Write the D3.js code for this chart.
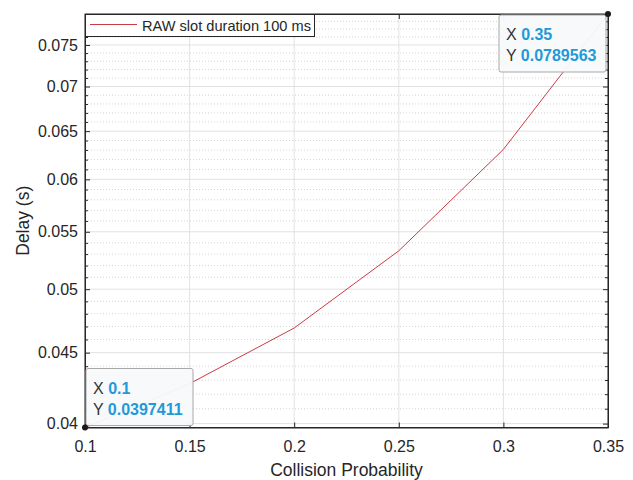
<!DOCTYPE html>
<html>
<head>
<meta charset="utf-8">
<script src="https://cdn.jsdelivr.net/npm/d3@7"></script>
<style>
  body { margin: 0; background: #fff; }
  text { font-family: "Liberation Sans", Arial, sans-serif; }
</style>
</head>
<body>
<script>
// Delay vs collision probability (log y axis, MATLAB style)
var collisionProb = [0.1, 0.15, 0.2, 0.25, 0.3, 0.35];
var delayRaw100 = [0.0397411, 0.04274, 0.04688, 0.05329, 0.06306, 0.0789563];
var xTicks = [0.1, 0.15, 0.2, 0.25, 0.3, 0.35];
var yTicks = [0.04, 0.045, 0.05, 0.055, 0.06, 0.065, 0.07, 0.075];
var yMinorTicks = [0.041, 0.042, 0.043, 0.044, 0.046, 0.047, 0.048, 0.049,
                   0.051, 0.052, 0.053, 0.054, 0.056, 0.057, 0.058, 0.059,
                   0.061, 0.062, 0.063, 0.064, 0.066, 0.067, 0.068, 0.069,
                   0.071, 0.072, 0.073, 0.074, 0.076, 0.077, 0.078];
var seriesName = "RAW slot duration 100 ms";
var tipIndex = [5, 0];

var W = 633, H = 480;
var margin = { top: 14, right: 25, bottom: 52.5, left: 85 },
    width = W - margin.left - margin.right,
    height = H - margin.top - margin.bottom;

var svg = d3.select("body").append("svg")
    .attr("width", W)
    .attr("height", H);
var g = svg.append("g")
    .attr("transform", "translate(" + margin.left + "," + margin.top + ")");

var x = d3.scaleLinear().domain([0.1, 0.35]).range([0, width]);
var y = d3.scaleLog().domain([d3.min(delayRaw100), d3.max(delayRaw100)]).range([height, 0]);

var axisColor = "#262626";
var lineColor = "#cc3b45";

// grid
g.selectAll(".minor").data(yMinorTicks).enter().append("line")
    .attr("x1", 0).attr("x2", width)
    .attr("y1", function (d) { return y(d); }).attr("y2", function (d) { return y(d); })
    .attr("stroke", "#d4d4d4").attr("stroke-width", 1)
    .attr("stroke-dasharray", "1,2");
g.selectAll(".gridY").data(yTicks).enter().append("line")
    .attr("x1", 0).attr("x2", width)
    .attr("y1", function (d) { return y(d); }).attr("y2", function (d) { return y(d); })
    .attr("stroke", "#e2e2e2");
g.selectAll(".gridX").data(xTicks).enter().append("line")
    .attr("y1", 0).attr("y2", height)
    .attr("x1", function (d) { return x(d); }).attr("x2", function (d) { return x(d); })
    .attr("stroke", "#e2e2e2");

// series
var line = d3.line()
    .x(function (d, i) { return x(collisionProb[i]); })
    .y(function (d) { return y(d); });
g.append("path").datum(delayRaw100)
    .attr("d", line)
    .attr("fill", "none")
    .attr("stroke", lineColor)
    .attr("stroke-width", 1);

// axes (ticks inward, box on)
var fmt = function (d) { return String(+d.toFixed(4)); };
var axB = g.append("g").attr("transform", "translate(0," + height + ")")
    .call(d3.axisBottom(x).tickValues(xTicks).tickFormat(fmt).tickSizeInner(-5).tickSizeOuter(0).tickPadding(13));
var axT = g.append("g")
    .call(d3.axisTop(x).tickValues(xTicks).tickFormat("").tickSizeInner(-5).tickSizeOuter(0));
var axL = g.append("g")
    .call(d3.axisLeft(y).tickValues(yTicks).tickFormat(fmt).tickSizeInner(-5).tickSizeOuter(0).tickPadding(7));
var axLm = g.append("g")
    .call(d3.axisLeft(y).tickValues(yMinorTicks).tickFormat("").tickSizeInner(-3).tickSizeOuter(0));
var axR = g.append("g").attr("transform", "translate(" + width + ",0)")
    .call(d3.axisRight(y).tickValues(yTicks).tickFormat("").tickSizeInner(-5).tickSizeOuter(0));
var axRm = g.append("g").attr("transform", "translate(" + width + ",0)")
    .call(d3.axisRight(y).tickValues(yMinorTicks).tickFormat("").tickSizeInner(-3).tickSizeOuter(0));
[axB, axT, axL, axLm, axR, axRm].forEach(function (a) {
    a.select(".domain").attr("stroke", axisColor);
    a.selectAll(".tick line").attr("stroke", axisColor);
    a.selectAll(".tick text").attr("fill", axisColor).style("font-size", "16px")
        .style("font-family", "'Liberation Sans', Arial, sans-serif");
});
g.append("rect").attr("width", width).attr("height", height)
    .attr("fill", "none").attr("stroke", axisColor).attr("stroke-width", 1);

// axis labels
svg.append("text")
    .attr("x", margin.left + width / 2).attr("y", 475.5)
    .attr("text-anchor", "middle")
    .attr("fill", axisColor).style("font-size", "17.5px")
    .text("Collision Probability");
svg.append("text")
    .attr("transform", "translate(29," + (margin.top + height / 2) + ") rotate(-90)")
    .attr("text-anchor", "middle")
    .attr("fill", axisColor).style("font-size", "17.5px")
    .text("Delay (s)");

// legend
var lg = g.append("g");
lg.append("rect").attr("x", 0.5).attr("y", 0.5).attr("width", 229).attr("height", 22)
    .attr("fill", "#fff").attr("stroke", axisColor);
lg.append("line").attr("x1", 5).attr("x2", 52).attr("y1", 10.5).attr("y2", 10.5)
    .attr("stroke", lineColor).attr("stroke-width", 1);
lg.append("text").attr("x", 57).attr("y", 16.5)
    .attr("fill", axisColor).style("font-size", "14.6px")
    .text(seriesName);

// data tips
var tipBoxes = [
    { dx: -109, dy: 1 },
    { dx: 1, dy: -59 }
];
tipIndex.forEach(function (idx, k) {
    var px = x(collisionProb[idx]), py = y(delayRaw100[idx]);
    var b = tipBoxes[k];
    var tg = g.append("g").attr("transform", "translate(" + (px + b.dx) + "," + (py + b.dy) + ")");
    tg.append("rect").attr("width", 107).attr("height", 57).attr("rx", 2)
        .attr("fill", "#f8f9fb").attr("fill-opacity", 0.95)
        .attr("stroke", "#a8a8a8");
    var rows = [["X ", String(collisionProb[idx])], ["Y ", String(delayRaw100[idx])]];
    rows.forEach(function (r, j) {
        var t = tg.append("text").attr("x", 7).attr("y", 25 + j * 21).style("font-size", "16px");
        t.append("tspan").attr("fill", "#333").text(r[0]);
        t.append("tspan").attr("fill", "#1f9ad8").attr("font-weight", "bold").text(r[1]);
    });
    g.append("circle").attr("cx", px).attr("cy", py).attr("r", 3)
        .attr("fill", "#1a1a1a");
});
</script>
</body>
</html>
